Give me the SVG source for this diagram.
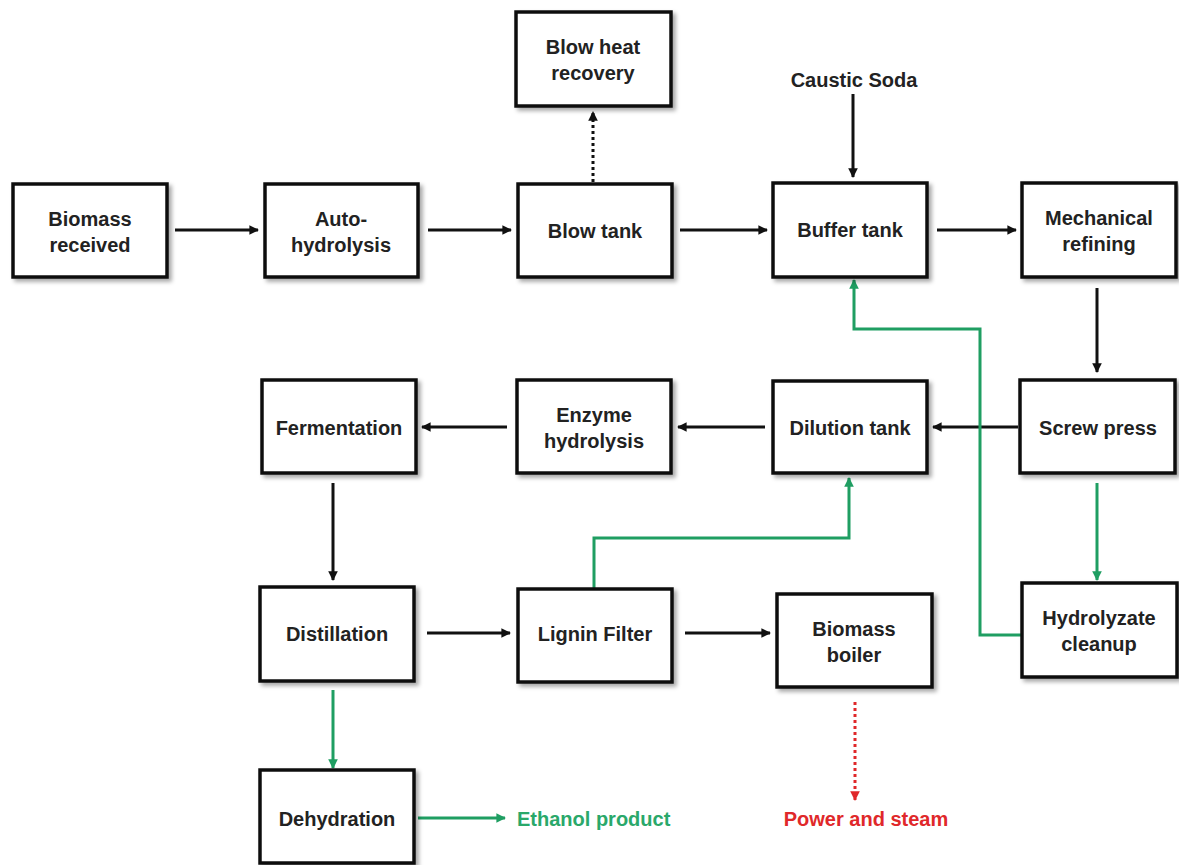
<svg xmlns="http://www.w3.org/2000/svg" width="1179" height="865" viewBox="0 0 1179 865">
<style>
.box{fill:#fff;stroke:#111;stroke-width:3.5;filter:url(#sh)}
.t{font-family:"Liberation Sans",Arial,sans-serif;font-weight:bold;font-size:20px;fill:#222;text-anchor:middle}
.k{stroke:#111;stroke-width:3;fill:none}
.g{stroke:#1f9e62;stroke-width:3;fill:none}
.r{stroke:#e0282a;stroke-width:3;fill:none;stroke-dasharray:3 3}
.d{stroke:#111;stroke-width:3;fill:none;stroke-dasharray:3 3}
</style>
<defs>
<filter id="sh" x="-10%" y="-10%" width="130%" height="130%">
<feDropShadow dx="3" dy="3" stdDeviation="2" flood-color="#000" flood-opacity="0.35"/>
</filter>
<marker id="ak" viewBox="0 0 10 10" refX="9" refY="5" markerWidth="3.2" markerHeight="3.2" orient="auto" markerUnits="strokeWidth"><path d="M0,0L10,5L0,10z" fill="#111"/></marker>
<marker id="ag" viewBox="0 0 10 10" refX="9" refY="5" markerWidth="3.2" markerHeight="3.2" orient="auto" markerUnits="strokeWidth"><path d="M0,0L10,5L0,10z" fill="#1f9e62"/></marker>
<marker id="ar" viewBox="0 0 10 10" refX="9" refY="5" markerWidth="3.2" markerHeight="3.2" orient="auto" markerUnits="strokeWidth"><path d="M0,0L10,5L0,10z" fill="#e0282a"/></marker>
</defs>
<rect width="1179" height="865" fill="#fff"/>

<g id="connectors">
<line class="k" x1="175" y1="230" x2="258" y2="230" marker-end="url(#ak)"/>
<line class="k" x1="428" y1="230" x2="511" y2="230" marker-end="url(#ak)"/>
<line class="k" x1="680" y1="230" x2="767" y2="230" marker-end="url(#ak)"/>
<line class="k" x1="937" y1="230" x2="1016" y2="230" marker-end="url(#ak)"/>
<line class="d" x1="593" y1="182" x2="593" y2="112" marker-end="url(#ak)"/>
<line class="k" x1="853" y1="94" x2="853" y2="177" marker-end="url(#ak)"/>
<line class="k" x1="1097" y1="288" x2="1097" y2="372" marker-end="url(#ak)"/>
<line class="k" x1="1018" y1="427" x2="933" y2="427" marker-end="url(#ak)"/>
<line class="k" x1="765" y1="427" x2="678" y2="427" marker-end="url(#ak)"/>
<line class="k" x1="507" y1="427" x2="422" y2="427" marker-end="url(#ak)"/>
<line class="k" x1="333" y1="483" x2="333" y2="580" marker-end="url(#ak)"/>
<line class="k" x1="427" y1="633" x2="510" y2="633" marker-end="url(#ak)"/>
<line class="k" x1="685" y1="633" x2="770" y2="633" marker-end="url(#ak)"/>
<line class="g" x1="1097" y1="483" x2="1097" y2="580" marker-end="url(#ag)"/>
<polyline class="g" points="1022,635 980,635 980,329 854,329 854,280" marker-end="url(#ag)"/>
<polyline class="g" points="594,588 594,538 849,538 849,478" marker-end="url(#ag)"/>
<line class="g" x1="333" y1="690" x2="333" y2="768" marker-end="url(#ag)"/>
<line class="g" x1="418" y1="818" x2="505" y2="818" marker-end="url(#ag)"/>
<line class="r" x1="855" y1="702" x2="855" y2="800" marker-end="url(#ar)"/>
</g>

<g id="biomass-received"><rect class="box" x="13" y="184" width="154" height="93"/><text class="t" x="90" y="226">Biomass</text><text class="t" x="90" y="252">received</text></g>
<g id="auto-hydrolysis"><rect class="box" x="265" y="184" width="153" height="93"/><text class="t" x="341" y="226">Auto-</text><text class="t" x="341" y="252">hydrolysis</text></g>
<g id="blow-tank"><rect class="box" x="518" y="184" width="154" height="93"/><text class="t" x="595" y="238">Blow tank</text></g>
<g id="blow-heat-recovery"><rect class="box" x="516" y="12" width="155" height="94"/><text class="t" x="593" y="54">Blow heat</text><text class="t" x="593" y="80">recovery</text></g>
<g id="caustic-soda"><text class="t" x="854" y="87">Caustic Soda</text></g>
<g id="buffer-tank"><rect class="box" x="773" y="183" width="154" height="94"/><text class="t" x="850" y="237">Buffer tank</text></g>
<g id="mechanical-refining"><rect class="box" x="1022" y="183" width="154" height="94"/><text class="t" x="1099" y="225">Mechanical</text><text class="t" x="1099" y="251">refining</text></g>
<g id="fermentation"><rect class="box" x="262" y="380" width="154" height="93"/><text class="t" x="339" y="435">Fermentation</text></g>
<g id="enzyme-hydrolysis"><rect class="box" x="517" y="380" width="154" height="93"/><text class="t" x="594" y="422">Enzyme</text><text class="t" x="594" y="448">hydrolysis</text></g>
<g id="dilution-tank"><rect class="box" x="773" y="381" width="154" height="92"/><text class="t" x="850" y="435">Dilution  tank</text></g>
<g id="screw-press"><rect class="box" x="1020" y="380" width="155" height="93"/><text class="t" x="1098" y="435">Screw press</text></g>
<g id="distillation"><rect class="box" x="260" y="587" width="154" height="94"/><text class="t" x="337" y="641">Distillation</text></g>
<g id="lignin-filter"><rect class="box" x="518" y="589" width="154" height="93"/><text class="t" x="595" y="641">Lignin  Filter</text></g>
<g id="biomass-boiler"><rect class="box" x="777" y="594" width="155" height="93"/><text class="t" x="854" y="636">Biomass</text><text class="t" x="854" y="662">boiler</text></g>
<g id="hydrolyzate-cleanup"><rect class="box" x="1022" y="583" width="155" height="94"/><text class="t" x="1099" y="625">Hydrolyzate</text><text class="t" x="1099" y="651">cleanup</text></g>
<g id="dehydration"><rect class="box" x="260" y="770" width="154" height="93"/><text class="t" x="337" y="826">Dehydration</text></g>
<g id="ethanol-product"><text class="t" x="517" y="826" style="text-anchor:start;fill:#2aa86a">Ethanol product</text></g>
<g id="power-and-steam"><text class="t" x="866" y="826" style="fill:#e0282a">Power and steam</text></g>
</svg>
